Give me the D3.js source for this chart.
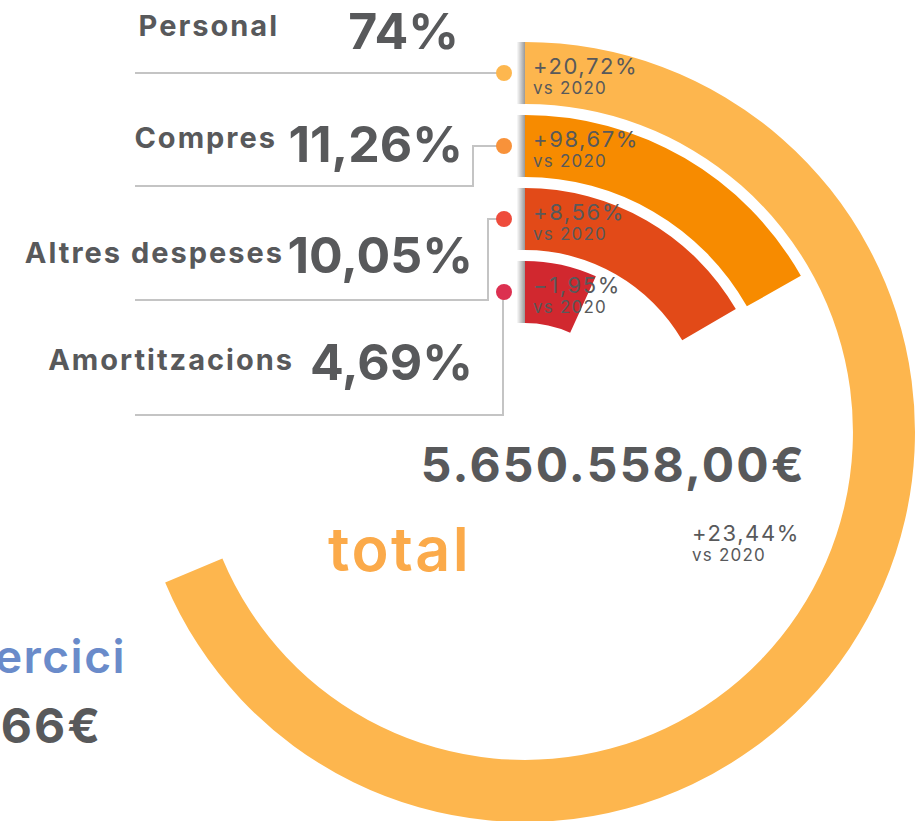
<!DOCTYPE html>
<html>
<head>
<meta charset="utf-8">
<script src="https://cdn.jsdelivr.net/npm/d3@7/dist/d3.min.js"></script>
<style>
  body { margin: 0; background: #fff; }
  svg { display: block; font-family: Inter, "Noto Sans", sans-serif; }
</style>
</head>
<body>
<svg width="919" height="821"></svg>
<script>
// the data
var categories = ["Personal", "Compres", "Altres despeses", "Amortitzacions"];
var shares = [74, 11.26, 10.05, 4.69];          // share of total, %
var changes = [20.72, 98.67, 8.56, -1.95];      // vs 2020, %
var arcTurn = [68.7, 16.8, 16.6, 6.8];          // length of each arc, % of a full turn as drawn
var barColors = ["#fdb64e", "#f78b00", "#e24a18", "#d1282f"];
var dotColors = ["#fdb74f", "#f8923a", "#ee4c3c", "#dc3050"];
var total = 5650558.00;
var totalChange = 23.44;

var grey = "#58595b";

var svg = d3.select("svg"),
    cx = 525, cy = 432;

// catalan style numbers: 1.234,56
var loc = d3.formatLocale({decimal: ",", thousands: ".", grouping: [3], currency: ["", "€"]});
function pct(v, signed) {
  var s = (v % 1 === 0) ? String(v) : loc.format(",.2f")(v);
  if (signed && v > 0) s = "+" + s;
  return s + "%";
}

var angle = d3.scaleLinear().domain([0, 100]).range([0, 2 * Math.PI]);
var radius = d3.scaleBand().domain(categories).range([390, 109]).paddingInner(0.15);

var arc = d3.arc()
    .startAngle(0)
    .endAngle(function(d, i) { return angle(arcTurn[i]); })
    .innerRadius(function(d) { return radius(d); })
    .outerRadius(function(d) { return radius(d) + radius.bandwidth(); });

var defs = svg.append("defs");
var shadow = defs.append("linearGradient").attr("id", "shadow");
shadow.append("stop").attr("offset", "0%").attr("stop-color", "#000").attr("stop-opacity", 0.02);
shadow.append("stop").attr("offset", "100%").attr("stop-color", "#000").attr("stop-opacity", 0.4);

var chart = svg.append("g").attr("transform", "translate(" + cx + "," + cy + ")");

// the bars
chart.selectAll(".bar")
  .data(categories)
  .enter().append("path")
    .attr("class", "bar")
    .attr("d", arc)
    .attr("fill", function(d, i) { return barColors[i]; });

// little shadow at the start of every bar
chart.selectAll(".shadow")
  .data(categories)
  .enter().append("rect")
    .attr("class", "shadow")
    .attr("x", -8)
    .attr("width", 8)
    .attr("y", function(d) { return -(radius(d) + radius.bandwidth()); })
    .attr("height", radius.bandwidth())
    .attr("fill", "url(#shadow)");

// change labels inside the bars
function mid(d) { return -(radius(d) + radius.bandwidth() / 2); }

chart.selectAll(".chg")
  .data(categories)
  .enter().append("text")
    .attr("class", "chg")
    .attr("x", 8)
    .attr("y", function(d) { return mid(d) + 1; })
    .attr("fill", grey)
    .style("font-size", "22px")
    .style("letter-spacing", "1.6px")
    .text(function(d, i) { return pct(changes[i], true); });

chart.selectAll(".vs")
  .data(categories)
  .enter().append("text")
    .attr("class", "vs")
    .attr("x", 8)
    .attr("y", function(d) { return mid(d) + 21; })
    .attr("fill", grey)
    .style("font-size", "17px")
    .style("letter-spacing", "1.2px")
    .text("vs 2020");

// legend on the left with leader lines to the dots
var rowY = [72, 186, 300, 415];
var labelDy = [-36, -38, -37, -45];
var valueDy = [-23, -24, -27, -35];
var labelEnd = [279, 277, 284, 294];
var valueEnd = [459, 463, 473, 473];
var dotX = 504;

var rows = svg.selectAll(".row")
  .data(categories)
  .enter().append("g")
    .attr("class", "row");

rows.append("path")
    .attr("fill", "none")
    .attr("stroke", "#c4c4c4")
    .attr("stroke-width", 2)
    .attr("d", function(d, i) {
      var dy = cy + mid(d);
      if (i === 0) return "M135," + dy + "H" + dotX;
      return "M135," + rowY[i] + "H" + (458 + 15 * i) + "V" + dy + "H" + dotX;
    });

rows.append("circle")
    .attr("cx", dotX)
    .attr("cy", function(d) { return cy + mid(d); })
    .attr("r", 8)
    .attr("fill", function(d, i) { return dotColors[i]; });

rows.append("text")
    .attr("x", function(d, i) { return labelEnd[i]; })
    .attr("y", function(d, i) { return rowY[i] + labelDy[i]; })
    .attr("text-anchor", "end")
    .attr("fill", grey)
    .style("font-size", "29px")
    .style("font-weight", 700)
    .style("letter-spacing", "2px")
    .text(function(d) { return d; });

rows.append("text")
    .attr("x", function(d, i) { return valueEnd[i]; })
    .attr("y", function(d, i) { return rowY[i] + valueDy[i]; })
    .attr("text-anchor", "end")
    .attr("fill", grey)
    .style("font-size", "50px")
    .style("font-weight", 700)
    .text(function(d, i) { return pct(shares[i], false); });

// total in the middle
svg.append("text")
    .attr("x", 806).attr("y", 482)
    .attr("text-anchor", "end")
    .attr("fill", grey)
    .style("font-size", "48px")
    .style("font-weight", 700)
    .style("letter-spacing", "2.2px")
    .text(loc.format(",.2f")(total) + "€");

svg.append("text")
    .attr("x", 471).attr("y", 571)
    .attr("text-anchor", "end")
    .attr("fill", "#fbaa4a")
    .style("font-size", "61px")
    .style("font-weight", 600)
    .style("letter-spacing", "2.4px")
    .text("total");

svg.append("text")
    .attr("x", 692).attr("y", 541)
    .attr("fill", grey)
    .style("font-size", "22px")
    .style("letter-spacing", "1.6px")
    .text(pct(totalChange, true));

svg.append("text")
    .attr("x", 692).attr("y", 561)
    .attr("fill", grey)
    .style("font-size", "17px")
    .style("letter-spacing", "1.2px")
    .text("vs 2020");

// the neighbouring block, cut off by the left edge
svg.append("text")
    .attr("x", 126).attr("y", 673)
    .attr("text-anchor", "end")
    .attr("fill", "#6a8bca")
    .style("font-size", "46px")
    .style("font-weight", 600)
    .style("letter-spacing", "1.5px")
    .text("ercici");

svg.append("text")
    .attr("x", 102).attr("y", 743)
    .attr("text-anchor", "end")
    .attr("fill", grey)
    .style("font-size", "48px")
    .style("font-weight", 700)
    .style("letter-spacing", "2px")
    .text("66€");
</script>
</body>
</html>
